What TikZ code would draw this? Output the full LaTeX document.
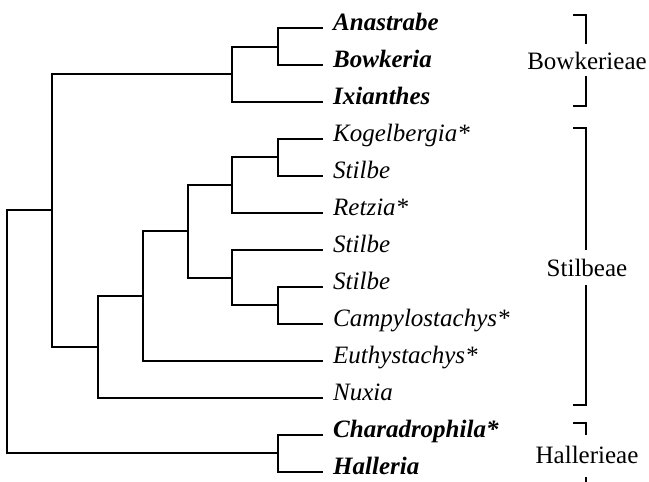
\documentclass[tikz,border=0pt]{standalone}
\usepackage{fontspec}
\setmainfont{Liberation Serif}
\begin{document}
\begin{tikzpicture}[x=1pt,y=-1pt,
  branch/.style={line width=2pt, line join=miter},
  brk/.style={line width=2pt, line join=miter},
  taxon/.style={anchor=west, inner sep=0pt, text height=0.7em, text depth=0.25em, font=\fontsize{25}{25}\selectfont\itshape},
  taxonb/.style={taxon, font=\fontsize{25}{25}\selectfont\bfseries\itshape},
  clade/.style={anchor=center, inner sep=0pt, font=\fontsize{25}{25}\selectfont}]
\useasboundingbox (0,0) rectangle (649,482);
% leaf tips
\foreach \i/\y in {1/28,2/65,3/102,4/139,5/176,6/213,7/250,8/287,9/324,10/361,11/398,12/435,13/472}
  \coordinate (t\i) at (323,\y);
% taxon labels
\node[taxonb] (l1) at (333,28) {Anastrabe};
\node[taxonb] (l2) at (333,65) {Bowkeria};
\node[taxonb] (l3) at (333,102) {Ixianthes};
\node[taxon] (l4) at (333,139) {Kogelbergia*};
\node[taxon] (l5) at (333,176) {Stilbe};
\node[taxon] (l6) at (333,213) {Retzia*};
\node[taxon] (l7) at (333,250) {Stilbe};
\node[taxon] (l8) at (333,287) {Stilbe};
\node[taxon] (l9) at (333,324) {Campylostachys*};
\node[taxon] (l10) at (333,361) {Euthystachys*};
\node[taxon] (l11) at (333,398) {Nuxia};
\node[taxonb] (l12) at (333,435) {Charadrophila*};
\node[taxonb] (l13) at (333,472) {Halleria};
% internal nodes
\coordinate (nab) at (278,47);
\coordinate (nbow) at (232,74);
\coordinate (nks) at (278,157);
\coordinate (nret) at (232,185);
\coordinate (nsc) at (278,305);
\coordinate (nss) at (232,278);
\coordinate (nst) at (188,231);
\coordinate (neu) at (143,296);
\coordinate (nnu) at (98,347);
\coordinate (nbs) at (52,210);
\coordinate (nhal) at (278,453);
\coordinate (root) at (7,331);
% branches
\draw[branch] (nab) |- (t1);
\draw[branch] (nab) |- (t2);
\draw[branch] (nbow) |- (nab);
\draw[branch] (nbow) |- (t3);
\draw[branch] (nks) |- (t4);
\draw[branch] (nks) |- (t5);
\draw[branch] (nret) |- (nks);
\draw[branch] (nret) |- (t6);
\draw[branch] (nsc) |- (t8);
\draw[branch] (nsc) |- (t9);
\draw[branch] (nss) |- (t7);
\draw[branch] (nss) |- (nsc);
\draw[branch] (nst) |- (nret);
\draw[branch] (nst) |- (nss);
\draw[branch] (neu) |- (nst);
\draw[branch] (neu) |- (t10);
\draw[branch] (nnu) |- (neu);
\draw[branch] (nnu) |- (t11);
\draw[branch] (nbs) |- (nbow);
\draw[branch] (nbs) |- (nnu);
\draw[branch] (nhal) |- (t12);
\draw[branch] (nhal) |- (t13);
\draw[branch] (root) |- (nbs);
\draw[branch] (root) |- (nhal);
% clade labels
\node[clade] (c1) at (587,61) {Bowkerieae};
\node[clade] (c2) at (587,267.5) {Stilbeae};
\node[clade] (c3) at (587,455) {Hallerieae};
% clade brackets
\coordinate (b1a) at (573,15);  \coordinate (g1a) at (586,44);
\coordinate (b1b) at (573,106); \coordinate (g1b) at (586,76);
\coordinate (b2a) at (573,128); \coordinate (g2a) at (586,250);
\coordinate (b2b) at (573,405); \coordinate (g2b) at (586,285);
\coordinate (b3a) at (573,423); \coordinate (g3a) at (586,435);
\coordinate (b3b) at (586,482); \coordinate (g3b) at (586,477);
\draw[brk] (b1a) -| (g1a);
\draw[brk] (b1b) -| (g1b);
\draw[brk] (b2a) -| (g2a);
\draw[brk] (b2b) -| (g2b);
\draw[brk] (b3a) -| (g3a);
\draw[brk] (b3b) -- (g3b);
\end{tikzpicture}
\end{document}
